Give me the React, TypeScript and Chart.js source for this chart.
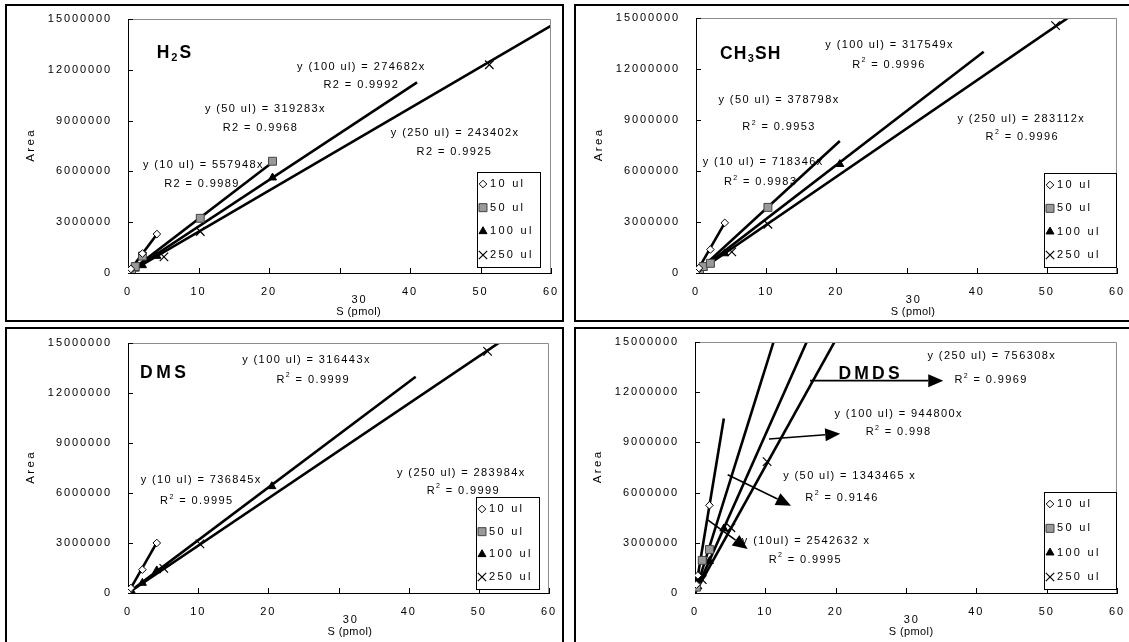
import React, { useEffect, useRef } from 'react';
import { Chart, registerables } from 'chart.js';
Chart.register(...registerables);

const FONT = '"Liberation Sans", Arial, Helvetica, sans-serif';

// ---------- axes ----------
const xTickValues = [0, 10, 20, 30, 40, 50, 60];
const yTickValues = [0, 3000000, 6000000, 9000000, 12000000, 15000000];
const seriesNames = ['10 ul', '50 ul', '100 ul', '250 ul'];

// ---------- H2S ----------
const h2s10 = [[0.2, 110000], [0.41, 240000], [2.05, 1150000], [4.1, 2300000]];
const h2s50 = [[0.5, 150000], [1.03, 380000], [2.05, 1000000], [10.25, 3230000], [20.5, 6600000]];
const h2s100 = [[1.03, 250000], [2.05, 450000], [4.1, 1000000], [20.5, 5630000]];
const h2s250 = [[5.1, 950000], [10.25, 2450000], [51.25, 12300000]];
const h2sTrendX = [4.1, 20.5, 41, 102.5];
const h2sTrendY = [2287587, 6545302, 11261962, 24948705];

// ---------- CH3SH ----------
const ch10 = [[0.2, 140000], [0.41, 290000], [2.05, 1380000], [4.1, 2950000]];
const ch50 = [[0.5, 150000], [1.03, 380000], [2.05, 570000], [10.25, 3860000]];
const ch100 = [[1.03, 300000], [2.05, 520000], [4.1, 1150000], [20.5, 6400000]];
const ch250 = [[5.1, 1240000], [10.25, 2870000], [51.25, 14550000]];
const chTrendX = [4.1, 20.5, 41, 102.5];
const chTrendY = [2945219, 7765359, 13019509, 29018980];

// ---------- DMS ----------
const dms10 = [[0.2, 150000], [0.41, 300000], [2.05, 1400000], [4.1, 3000000]];
const dms50: number[][] = [];
const dms100 = [[0.5, 100000], [2.05, 600000], [4.1, 1350000], [20.5, 6400000]];
const dms250 = [[5.1, 1480000], [10.25, 2950000], [51.25, 14500000]];
const dmsTrendX = [4.1, 41, 102.5];
const dmsTrendY = [3021065, 12974163, 29108360];

// ---------- DMDS ----------
const dmds10 = [[0.2, 500000], [0.41, 1050000], [2.05, 5240000]];
const dmds50 = [[0.21, 350000], [1.03, 1950000], [2.05, 2600000]];
const dmds100 = [[0.41, 380000], [2.05, 1900000], [4.1, 3850000]];
const dmds250 = [[1.03, 800000], [5.1, 3900000], [10.25, 7850000]];
const dmdsTrendX = [4.1, 20.5, 41, 102.5];
const dmdsTrendY = [10424791, 27541033, 38736800, 77521570];

type Seg = { t: string; sup?: boolean; sub?: boolean };
type Label = { segs: Seg[]; x: number; y: number };

const eq = (t: string, x: number, y: number): Label => ({ segs: [{ t }], x, y });
const r2 = (v: string, x: number, y: number): Label => ({ segs: [{ t: 'R' }, { t: '2', sup: true }, { t: ' = ' + v }], x, y });

const h2sLabels: Label[] = [
  eq('y (100 ul) = 274682x', 33.0, 12190000), eq('R2 = 0.9992', 33.0, 11100000),
  eq('y (50 ul) = 319283x', 19.4, 9690000), eq('R2 = 0.9968', 18.7, 8560000),
  eq('y (10 ul) = 557948x', 10.6, 6380000), eq('R2 = 0.9989', 10.4, 5260000),
  eq('y (250 ul) = 243402x', 46.3, 8250000), eq('R2 = 0.9925', 46.2, 7160000),
];
const chLabels: Label[] = [
  eq('y (100 ul) = 317549x', 27.5, 13430000), r2('0.9996', 27.4, 12250000),
  eq('y (50 ul) = 378798x', 11.73, 10180000), r2('0.9953', 11.73, 8570000),
  eq('y (10 ul) = 718346x', 9.48, 6540000), r2('0.9983', 9.12, 5330000),
  eq('y (250 ul) = 283112x', 46.27, 9060000), r2('0.9996', 46.4, 8020000),
];
const dmsLabels: Label[] = [
  eq('y (100 ul) = 316443x', 25.34, 14000000), r2('0.9999', 26.3, 12800000),
  eq('y (10 ul) = 736845x', 10.33, 6800000), r2('0.9995', 9.7, 5500000),
  eq('y (250 ul) = 283984x', 47.4, 7200000), r2('0.9999', 47.7, 6150000),
];
const dmdsLabels: Label[] = [
  eq('y (250 ul) = 756308x', 42.1, 14180000), r2('0.9969', 42.0, 12710000),
  eq('y (100 ul) = 944800x', 28.86, 10720000), r2('0.998', 28.86, 9600000),
  eq('y (50 ul) = 1343465 x', 21.9, 7010000), r2('0.9146', 20.8, 5680000),
  eq('y (10ul) = 2542632 x', 15.7, 3080000), r2('0.9995', 15.6, 1990000),
];
const dmdsArrows = [
  [16.35, 12690000, 35.3, 12690000],
  [10.52, 9200000, 20.65, 9520000],
  [4.65, 7070000, 13.65, 5220000],
  [1.66, 4420000, 7.49, 2630000],
];

type PanelCfg = {
  left: number; top: number;
  plot: { l: number; r: number; t: number; b: number };
  title: Seg[]; titlePos: [number, number]; titleSpacing: number;
  points: number[][][];
  trendX: number[]; trendY: number[];
  labels: Label[]; arrows: number[][];
  legend: [number, number, number, number];
  xTitleX: number;
};

const PW = 559, PH = 318, CW = 555, CH = 314;

const panels: PanelCfg[] = [
  {
    left: 5, top: 4, plot: { l: 121, r: 544, t: 13, b: 267 },
    title: [{ t: 'H' }, { t: '2', sub: true }, { t: 'S' }], titlePos: [4.07, 12980000], titleSpacing: 2,
    points: [h2s10, h2s50, h2s100, h2s250], trendX: h2sTrendX, trendY: h2sTrendY,
    labels: h2sLabels, arrows: [], legend: [470, 166, 63, 95], xTitleX: 32.7,
  },
  {
    left: 574, top: 4, plot: { l: 120, r: 541, t: 12, b: 267 },
    title: [{ t: 'CH' }, { t: '3', sub: true }, { t: 'SH' }], titlePos: [3.42, 12900000], titleSpacing: 1.2,
    points: [ch10, ch50, ch100, ch250], trendX: chTrendX, trendY: chTrendY,
    labels: chLabels, arrows: [], legend: [468, 167, 72, 94], xTitleX: 30.9,
  },
  {
    left: 5, top: 327, plot: { l: 121, r: 542, t: 14, b: 264 },
    title: [{ t: 'DMS' }], titlePos: [1.71, 13200000], titleSpacing: 3.5,
    points: [dms10, dms50, dms100, dms250], trendX: dmsTrendX, trendY: dmsTrendY,
    labels: dmsLabels, arrows: [], legend: [469, 168, 63, 92], xTitleX: 31.6,
  },
  {
    left: 574, top: 327, plot: { l: 119, r: 541, t: 13, b: 264 },
    title: [{ t: 'DMDS' }], titlePos: [20.4, 13050000], titleSpacing: 3.2,
    points: [dmds10, dmds50, dmds100, dmds250], trendX: dmdsTrendX, trendY: dmdsTrendY,
    labels: dmdsLabels, arrows: dmdsArrows, legend: [468, 163, 72, 97], xTitleX: 30.7,
  },
];

const markerStyles = [
  { pointStyle: 'rectRot', radius: 3.8, bg: '#ffffff', border: '#000000', bw: 1 },
  { pointStyle: 'rect', radius: 5.6, bg: '#999999', border: '#444444', bw: 1 },
  { pointStyle: 'triangle', radius: 4.6, bg: '#000000', border: '#000000', bw: 1 },
  { pointStyle: 'crossRot', radius: 6, bg: '#000000', border: '#000000', bw: 1.2 },
];

function drawSegs(ctx: CanvasRenderingContext2D, segs: Seg[], x: number, y: number, align: 'left' | 'center', size: number, bold: boolean, spacing: number) {
  const fontFor = (s: Seg) => `${bold ? 'bold ' : ''}${s.sup || s.sub ? Math.round(size * 0.65) : size}px ${FONT}`;
  ctx.save();
  (ctx as any).letterSpacing = spacing + 'px';
  ctx.textBaseline = 'middle';
  ctx.textAlign = 'left';
  ctx.fillStyle = '#000';
  let total = 0;
  const widths = segs.map((s) => { ctx.font = fontFor(s); const w = ctx.measureText(s.t).width; total += w; return w; });
  total -= spacing;
  let cx = align === 'center' ? x - total / 2 : x;
  segs.forEach((s, i) => {
    ctx.font = fontFor(s);
    const dy = s.sup ? -size * 0.4 : s.sub ? size * 0.3 : 0;
    ctx.fillText(s.t, cx, y + dy);
    cx += widths[i];
  });
  ctx.restore();
}

function drawMarker(ctx: CanvasRenderingContext2D, i: number, x: number, y: number) {
  ctx.save();
  ctx.lineWidth = 1;
  ctx.strokeStyle = '#000';
  ctx.beginPath();
  if (i === 0) {
    const r = 3.8;
    ctx.moveTo(x, y - r); ctx.lineTo(x + r, y); ctx.lineTo(x, y + r); ctx.lineTo(x - r, y); ctx.closePath();
    ctx.fillStyle = '#fff'; ctx.fill(); ctx.stroke();
  } else if (i === 1) {
    ctx.rect(x - 4, y - 4, 8, 8);
    ctx.fillStyle = '#999'; ctx.fill(); ctx.strokeStyle = '#444'; ctx.stroke();
  } else if (i === 2) {
    const r = 4.6;
    ctx.moveTo(x, y - r); ctx.lineTo(x + r * 0.866, y + r / 2); ctx.lineTo(x - r * 0.866, y + r / 2); ctx.closePath();
    ctx.fillStyle = '#000'; ctx.fill(); ctx.stroke();
  } else {
    const d = 4.2;
    ctx.moveTo(x - d, y - d); ctx.lineTo(x + d, y + d); ctx.moveTo(x + d, y - d); ctx.lineTo(x - d, y + d);
    ctx.lineWidth = 1.2; ctx.stroke();
  }
  ctx.restore();
}

function makeDeco(cfg: PanelCfg) {
  return {
    id: 'deco',
    beforeDraw(chart: any) {
      (chart.ctx as any).letterSpacing = '1.9px';
    },
    afterDatasetsDraw(chart: any) {
      const ctx = chart.ctx as CanvasRenderingContext2D;
      const a = chart.chartArea;
      const xs = chart.scales.x, ys = chart.scales.y;
      const X = (v: number) => xs.getPixelForValue(v);
      const Y = (v: number) => ys.getPixelForValue(v);
      ctx.save();
      (ctx as any).letterSpacing = '0px';
      // grey top/right plot border
      ctx.strokeStyle = '#8c8c8c';
      ctx.lineWidth = 1;
      ctx.beginPath();
      ctx.moveTo(a.left, a.top + 0.5);
      ctx.lineTo(a.right - 0.5, a.top + 0.5);
      ctx.lineTo(a.right - 0.5, a.bottom);
      ctx.stroke();
      // inner tick marks
      ctx.strokeStyle = '#000';
      ctx.beginPath();
      xTickValues.forEach((v) => { if (v === 0) return; const px = Math.round(X(v)) + 0.5; ctx.moveTo(px, a.bottom); ctx.lineTo(px, a.bottom - 5); });
      yTickValues.forEach((v) => { if (v === 0) return; const py = Math.round(Y(v)) + 0.5; ctx.moveTo(a.left, py); ctx.lineTo(a.left + 5, py); });
      ctx.stroke();
      // arrows
      cfg.arrows.forEach(([x1, y1, x2, y2]) => {
        const p1x = X(x1), p1y = Y(y1), p2x = X(x2), p2y = Y(y2);
        const ang = Math.atan2(p2y - p1y, p2x - p1x);
        const L = 15, W = 6.5;
        const bx = p2x - L * Math.cos(ang), by = p2y - L * Math.sin(ang);
        ctx.strokeStyle = '#000'; ctx.lineWidth = 1.6;
        ctx.beginPath(); ctx.moveTo(p1x, p1y); ctx.lineTo(bx, by); ctx.stroke();
        ctx.fillStyle = '#000';
        ctx.beginPath();
        ctx.moveTo(p2x, p2y);
        ctx.lineTo(bx + W * Math.sin(ang), by - W * Math.cos(ang));
        ctx.lineTo(bx - W * Math.sin(ang), by + W * Math.cos(ang));
        ctx.closePath(); ctx.fill();
      });
      ctx.restore();
      // equation labels
      cfg.labels.forEach((lb) => drawSegs(ctx, lb.segs, X(lb.x), Y(lb.y), 'center', 11, false, 1.4));
      // panel title
      drawSegs(ctx, cfg.title, X(cfg.titlePos[0]), Y(cfg.titlePos[1]), 'left', 17.5, true, cfg.titleSpacing);
      // axis titles
      ctx.save();
      ctx.translate(a.left - 97, (a.top + a.bottom) / 2);
      ctx.rotate(-Math.PI / 2);
      drawSegs(ctx, [{ t: 'Area' }], 0, 0, 'center', 11.5, false, 2.4);
      ctx.restore();
      drawSegs(ctx, [{ t: String(xTickValues[3]) }], X(cfg.xTitleX), a.bottom + 27, 'center', 11, false, 1.9);
      drawSegs(ctx, [{ t: 'S (pmol)' }], X(cfg.xTitleX), a.bottom + 38.5, 'center', 11, false, 0.4);
      // legend
      const [lx, ly, lw, lh] = cfg.legend;
      ctx.save();
      ctx.fillStyle = '#fff';
      ctx.fillRect(lx, ly, lw, lh);
      ctx.strokeStyle = '#000';
      ctx.lineWidth = 1;
      ctx.strokeRect(lx + 0.5, ly + 0.5, lw, lh);
      ctx.restore();
      const rowGap = (lh - 24) / 3;
      seriesNames.forEach((name, i) => {
        const cy = ly + 12 + i * rowGap;
        drawMarker(ctx, i, lx + 6, cy);
        drawSegs(ctx, [{ t: name }], lx + 13, cy, 'left', 11, false, 2.3);
      });
    },
  };
}

function zeroPad(s: any) {
  s.paddingTop = 0; s.paddingBottom = 0; s.paddingLeft = 0; s.paddingRight = 0;
}

function Panel({ cfg }: { cfg: PanelCfg }) {
  const ref = useRef<HTMLCanvasElement>(null);
  useEffect(() => {
    if (!ref.current) return;
    const p = cfg.plot;
    const datasets: any[] = [];
    cfg.points.forEach((pts, i) => {
      const m = markerStyles[i];
      datasets.push({
        label: seriesNames[i],
        data: pts.map(([x, y]) => ({ x, y })),
        showLine: false,
        pointStyle: m.pointStyle,
        pointRadius: m.radius,
        pointBackgroundColor: m.bg,
        pointBorderColor: m.border,
        pointBorderWidth: m.bw,
        order: 0,
      });
    });
    cfg.trendX.forEach((ex, i) => {
      datasets.push({
        label: 'trend' + i,
        data: [{ x: 0, y: 0 }, { x: ex, y: cfg.trendY[i] }],
        showLine: true,
        borderColor: '#000',
        borderWidth: 2.6,
        pointRadius: 0,
        fill: false,
        order: 1,
      });
    });
    const tickFont = { family: FONT, size: 11 };
    const chart = new Chart(ref.current, {
      type: 'scatter',
      data: { datasets },
      options: {
        animation: false,
        responsive: false,
        maintainAspectRatio: false,
        devicePixelRatio: 1,
        events: [],
        layout: { padding: { left: 0, top: p.t, right: CW - p.r, bottom: 0 } },
        plugins: { legend: { display: false }, tooltip: { enabled: false } },
        scales: {
          x: {
            type: 'linear', min: 0, max: 60,
            afterBuildTicks: (s: any) => { s.ticks = xTickValues.map((v) => ({ value: v })); },
            ticks: {
              autoSkip: false, maxRotation: 0, padding: 12, color: '#000', font: tickFont,
              callback: (v: any) => (v === xTickValues[3] ? '' : String(v)),
            },
            grid: { display: false, drawTicks: false },
            border: { display: true, color: '#000', width: 1 },
            afterFit: (s: any) => { s.height = CH - p.b; zeroPad(s); },
          },
          y: {
            type: 'linear', min: 0, max: 15000000,
            afterBuildTicks: (s: any) => { s.ticks = yTickValues.map((v) => ({ value: v })); },
            ticks: { padding: 16, color: '#000', font: tickFont, callback: (v: any) => String(v) },
            grid: { display: false, drawTicks: false },
            border: { display: true, color: '#000', width: 1 },
            afterFit: (s: any) => { s.width = p.l; zeroPad(s); },
          },
        },
      } as any,
      plugins: [makeDeco(cfg)],
    });
    return () => chart.destroy();
  }, []);
  return (
    <div style={{ position: 'absolute', left: cfg.left, top: cfg.top, width: PW, height: PH, border: '2px solid #000', boxSizing: 'border-box', background: '#fff' }}>
      <canvas ref={ref} width={CW} height={CH} style={{ display: 'block', width: CW, height: CH }} />
    </div>
  );
}

export default function App() {
  return (
    <div style={{ position: 'absolute', left: 0, top: 0, width: 1129, height: 642, overflow: 'hidden', background: '#fff' }}>
      {panels.map((c, i) => <Panel key={i} cfg={c} />)}
    </div>
  );
}
